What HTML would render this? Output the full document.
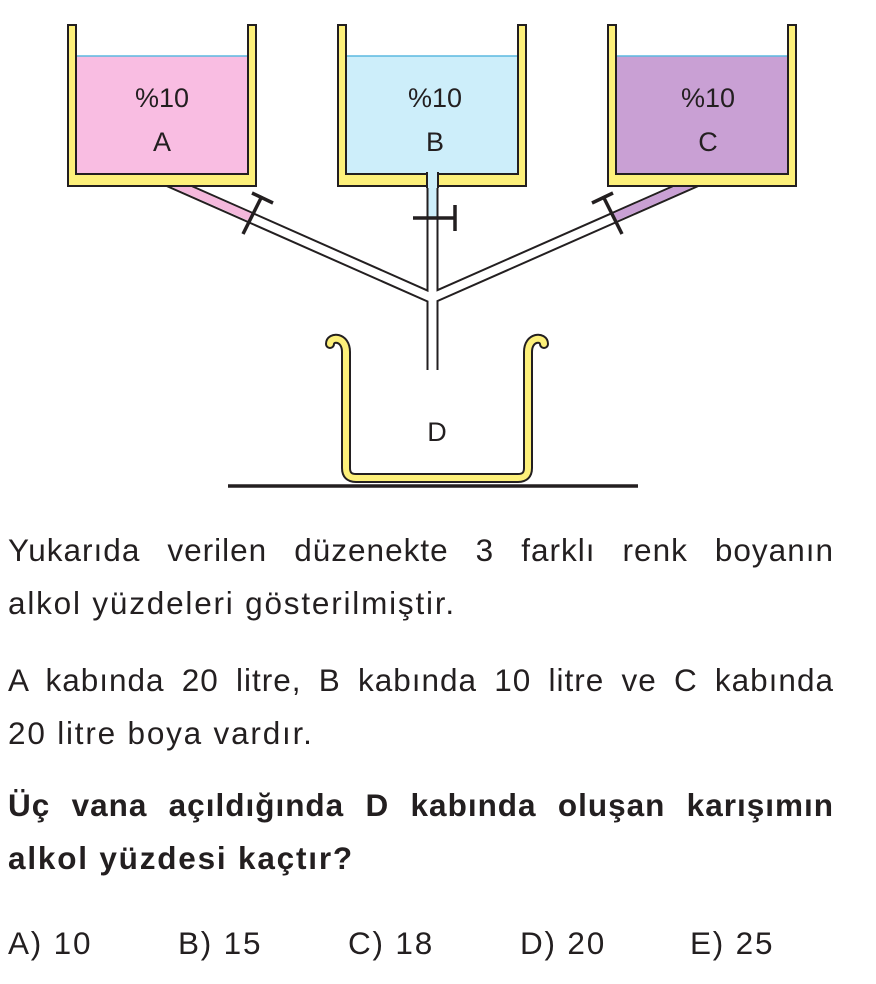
<!DOCTYPE html>
<html><head><meta charset="utf-8"><style>
body{margin:0;width:876px;height:984px;background:#fff;position:relative;font-family:"Liberation Sans",Arial,sans-serif;color:#231f20;overflow:hidden}
.t{position:absolute;left:8px;width:826px;font-size:31.5px;line-height:53px;letter-spacing:1.8px;white-space:nowrap}
.j{text-align:justify;text-align-last:justify;letter-spacing:1px}
b{font-weight:bold}
</style></head><body>
<svg width="876" height="500" style="position:absolute;left:0;top:0">
<g stroke-linecap="butt" fill="none">
<path d="M152,174 L432,298 L713,174 M432.5,174 V370" stroke="#231f20" stroke-width="12"/>
<path d="M152,174 L432,298 L713,174 M432.5,174 V372" stroke="#fff" stroke-width="8"/>
<path d="M152,174 L252,218" stroke="#f4b8dc" stroke-width="8"/>
<path d="M713,174 L613,218" stroke="#c9a0d4" stroke-width="8"/>
<path d="M432.5,180 V218" stroke="#cdeefa" stroke-width="8"/>
</g>
<g stroke="#231f20" stroke-width="2">
<path d="M68,25 H76 V174 H248 V25 H256 V186 H68 Z" fill="#fdf07a"/>
<rect x="77" y="56" width="170" height="117" fill="#f9bde2" stroke="none"/>
<path d="M338,25 H346 V174 H518 V25 H526 V186 H338 Z" fill="#fdf07a"/>
<rect x="347" y="56" width="170" height="117" fill="#cdeefa" stroke="none"/>
<path d="M608,25 H616 V174 H788 V25 H796 V186 H608 Z" fill="#fdf07a"/>
<rect x="617" y="56" width="170" height="117" fill="#c9a0d4" stroke="none"/>
</g>
<line x1="77" y1="56" x2="247" y2="56" stroke="#5bb8e0" stroke-width="1.5"/>
<line x1="347" y1="56" x2="517" y2="56" stroke="#5bb8e0" stroke-width="1.5"/>
<line x1="617" y1="56" x2="787" y2="56" stroke="#5bb8e0" stroke-width="1.5"/>
<rect x="427" y="172" width="11" height="16" fill="#cdeefa"/>
<line x1="427" y1="172" x2="427" y2="188" stroke="#231f20" stroke-width="2"/>
<line x1="438" y1="172" x2="438" y2="188" stroke="#231f20" stroke-width="2"/>
<g stroke="#231f20" stroke-width="3.5">
<line x1="262" y1="196" x2="243" y2="234"/><line x1="252" y1="193" x2="273" y2="203"/>
<line x1="603" y1="196" x2="622" y2="234"/><line x1="613" y1="193" x2="592" y2="203"/>
<line x1="413" y1="218" x2="455" y2="218"/><line x1="455" y1="205" x2="455" y2="231"/>
</g>
<path d="M330,344 C330,336 346,336 346,352 V468 Q346,478 356,478 H518 Q528,478 528,468 V352 C528,336 544,336 544,344" fill="none" stroke="#231f20" stroke-width="10" stroke-linecap="round"/>
<path d="M330,344 C330,336 346,336 346,352 V468 Q346,478 356,478 H518 Q528,478 528,468 V352 C528,336 544,336 544,344" fill="none" stroke="#fdf07a" stroke-width="6" stroke-linecap="round"/>
<line x1="228" y1="486" x2="638" y2="486" stroke="#231f20" stroke-width="3.5"/>
<g font-family="Liberation Sans,Arial,sans-serif" font-size="27" fill="#231f20" text-anchor="middle">
<text x="162" y="107">%10</text><text x="162" y="151">A</text>
<text x="435" y="107">%10</text><text x="435" y="151">B</text>
<text x="708" y="107">%10</text><text x="708" y="151">C</text>
<text x="437" y="441">D</text>
</g>
</svg>
<div class="t j" style="top:524px">Yukarıda verilen düzenekte 3 farklı renk boyanın</div>
<div class="t" style="top:577px">alkol yüzdeleri gösterilmiştir.</div>
<div class="t j" style="top:654px">A kabında 20 litre, B kabında 10 litre ve C kabında</div>
<div class="t" style="top:707px">20 litre boya vardır.</div>
<div class="t j" style="top:779px"><b>Üç vana açıldığında D kabında oluşan karışımın</b></div>
<div class="t" style="top:832px"><b>alkol yüzdesi kaçtır?</b></div>
<div class="t" style="top:917px;width:900px">
<span style="position:absolute;left:0">A) 10</span>
<span style="position:absolute;left:170px">B) 15</span>
<span style="position:absolute;left:340px">C) 18</span>
<span style="position:absolute;left:512px">D) 20</span>
<span style="position:absolute;left:682px">E) 25</span>
</div>
</body></html>
